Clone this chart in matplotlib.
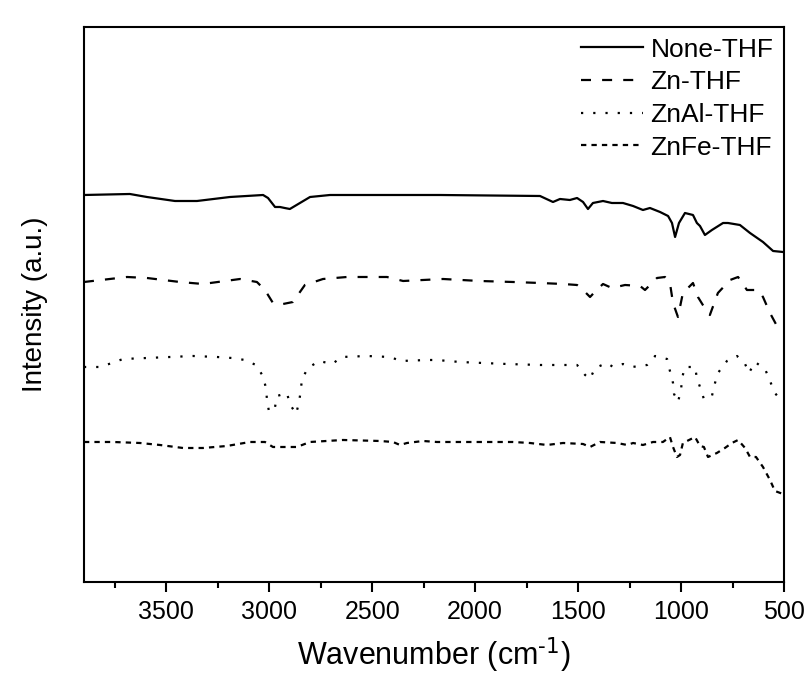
import numpy as np
import matplotlib
matplotlib.use('Agg')
import matplotlib.pyplot as plt

plt.rcParams['font.family'] = ['Liberation Sans', 'DejaVu Sans']

# Espectros FTIR, intensidad en unidades arbitrarias
wn_none = [3900, 3677, 3594, 3458, 3351, 3191, 3030, 3006, 2972, 2948, 2925, 2900,
           2851, 2802, 2705, 2171, 1685, 1622, 1588, 1540, 1505, 1476, 1452, 1428,
           1379, 1336, 1282, 1233, 1185, 1151, 1102, 1063, 1044, 1029, 1010, 981,
           942, 923, 908, 884, 850, 796, 772, 714, 665, 602, 553, 505]
int_none = [3.87, 3.88, 3.85, 3.81, 3.81, 3.85, 3.87, 3.84, 3.75, 3.75, 3.74, 3.73,
            3.79, 3.85, 3.87, 3.87, 3.86, 3.80, 3.83, 3.82, 3.84, 3.80, 3.73, 3.79,
            3.81, 3.79, 3.79, 3.76, 3.72, 3.74, 3.70, 3.66, 3.59, 3.45, 3.59, 3.69,
            3.67, 3.59, 3.56, 3.47, 3.52, 3.59, 3.59, 3.57, 3.49, 3.40, 3.31, 3.30]

wn_zn = [3900, 3691, 3594, 3434, 3322, 3142, 3060, 3021, 2982, 2933, 2885, 2827,
         2739, 2623, 2535, 2428, 2350, 2253, 2156, 1977, 1816, 1685, 1573, 1505,
         1476, 1442, 1410, 1379, 1336, 1272, 1199, 1175, 1117, 1078, 1054, 1039,
         1015, 991, 942, 918, 894, 860, 821, 762, 723, 680, 626, 602, 568, 529, 505]
int_zn = [3.00, 3.05, 3.04, 3.00, 2.98, 3.03, 3.00, 2.92, 2.79, 2.78, 2.80, 2.97,
          3.03, 3.05, 3.05, 3.05, 3.01, 3.02, 3.03, 3.01, 3.00, 2.99, 2.98, 2.97,
          2.92, 2.85, 2.92, 2.98, 2.94, 2.97, 2.96, 2.92, 3.04, 3.05, 2.99, 2.79,
          2.65, 2.89, 2.99, 2.85, 2.77, 2.67, 2.89, 3.02, 3.05, 2.92, 2.92, 2.85,
          2.69, 2.54, 2.51]

wn_znal = [3900, 3822, 3764, 3710, 3594, 3482, 3370, 3254, 3182, 3118, 3065, 3031,
           3016, 3011, 3001, 2972, 2962, 2914, 2900, 2870, 2856, 2848, 2841, 2812,
           2758, 2695, 2647, 2525, 2414, 2360, 2234, 2186, 2074, 1962, 1846, 1685,
           1505, 1466, 1442, 1418, 1360, 1330, 1282, 1238, 1165, 1126, 1068, 1054,
           1039, 1034, 1015, 1000, 995, 981, 932, 923, 908, 889, 850, 835, 821,
           777, 728, 689, 670, 641, 592, 568, 544, 505]
int_znal = [2.15, 2.15, 2.19, 2.23, 2.24, 2.25, 2.26, 2.25, 2.24, 2.22, 2.17, 2.06,
            1.94, 1.82, 1.70, 1.75, 1.86, 1.89, 1.78, 1.68, 1.79, 1.90, 2.03, 2.14,
            2.21, 2.18, 2.25, 2.26, 2.25, 2.21, 2.22, 2.22, 2.20, 2.19, 2.18, 2.17,
            2.17, 2.07, 2.03, 2.14, 2.19, 2.15, 2.18, 2.15, 2.17, 2.26, 2.23, 2.11,
            1.99, 1.88, 1.80, 1.92, 2.04, 2.15, 2.15, 2.04, 1.95, 1.83, 1.86, 1.99,
            2.09, 2.21, 2.26, 2.18, 2.09, 2.20, 2.13, 2.01, 1.89, 1.79]

wn_znfe = [3900, 3759, 3628, 3531, 3419, 3322, 3206, 3094, 3021, 2982, 2933, 2866,
           2802, 2642, 2462, 2399, 2365, 2331, 2253, 2186, 1816, 1734, 1651, 1573,
           1476, 1442, 1394, 1311, 1262, 1233, 1185, 1136, 1088, 1054, 1039, 1020,
           1005, 991, 961, 932, 908, 889, 869, 826, 787, 753, 723, 689, 665, 636,
           602, 568, 544, 505]
int_znfe = [1.40, 1.40, 1.39, 1.37, 1.34, 1.34, 1.36, 1.40, 1.40, 1.35, 1.35, 1.35,
            1.40, 1.42, 1.41, 1.40, 1.37, 1.39, 1.41, 1.40, 1.40, 1.39, 1.37, 1.39,
            1.38, 1.35, 1.40, 1.39, 1.37, 1.39, 1.37, 1.40, 1.40, 1.45, 1.35, 1.25,
            1.27, 1.39, 1.42, 1.45, 1.36, 1.35, 1.25, 1.29, 1.34, 1.39, 1.42, 1.34,
            1.25, 1.25, 1.15, 1.02, 0.91, 0.88]

etiquetas = ['None-THF', 'Zn-THF', 'ZnAl-THF', 'ZnFe-THF']

fig = plt.figure(figsize=(8.05, 6.75), dpi=100)
ax = fig.add_axes([0.1043, 0.1378, 0.8696, 0.8222])

ax.plot(wn_none, int_none, color='k', lw=1.6, label=etiquetas[0])
ax.plot(wn_zn, int_zn, color='k', lw=1.6, dashes=(4.5, 5), label=etiquetas[1])
ax.plot(wn_znal, int_znal, color='k', lw=1.6, dashes=(1, 4.5), label=etiquetas[2])
ax.plot(wn_znfe, int_znfe, color='k', lw=1.6, dashes=(2.4, 2.3), label=etiquetas[3])

ax.set_xlim(3900, 500)
ax.set_ylim(0, 5.55)
ax.set_xticks(np.arange(3500, 499, -500))
ax.set_xticks(np.arange(3750, 499, -250), minor=True)
ax.set_yticks([])
ax.tick_params(axis='x', which='major', direction='out', length=7, width=1.5,
               labelsize=18, pad=6)
ax.tick_params(axis='x', which='minor', direction='out', length=4, width=1.5)
for s in ax.spines.values():
    s.set_linewidth(1.5)

ax.set_xlabel('Wavenumber (cm$^{\\text{-1}}$)', fontsize=22, labelpad=8)
ax.set_ylabel('Intensity (a.u.)', fontsize=20, labelpad=26)

ax.legend(loc='upper right', bbox_to_anchor=(0.985, 0.981), frameon=False,
          fontsize=19, handlelength=2.35, handletextpad=0.3, labelspacing=0.33,
          borderpad=0, borderaxespad=0)

fig.savefig('out.png', dpi=100)
